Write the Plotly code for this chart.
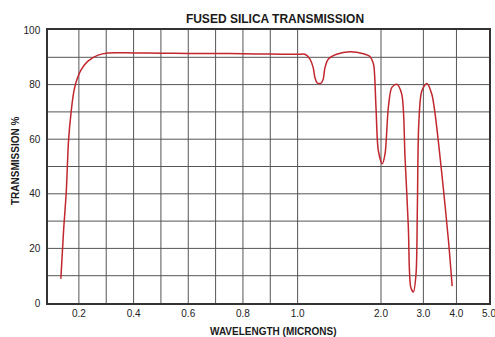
import numpy as np
import plotly.graph_objects as go

# --- data (wavelength in microns, transmission in %) ---
wavelength = [0.134, 0.144, 0.154, 0.162, 0.172, 0.182, 0.193, 0.209, 0.233, 0.270, 0.306,
              0.40, 0.50, 0.60, 0.70, 0.80, 0.90, 1.00, 1.088,
              1.148, 1.187, 1.208, 1.235, 1.259, 1.283, 1.307, 1.328, 1.367, 1.468,
              1.628, 1.788, 1.868, 1.900, 1.916, 1.940, 1.968, 2.03,
              2.095, 2.173, 2.253, 2.371, 2.489, 2.567, 2.645, 2.702, 2.764,
              2.827, 2.858, 2.891, 2.962, 3.103, 3.255, 3.355, 3.558, 3.758, 3.870]
transmission = [8.9, 26.5, 41.0, 59.4, 70.4, 77.7, 82.0, 85.6, 88.6, 90.8, 91.6,
                91.6, 91.5, 91.4, 91.4, 91.3, 91.2, 91.1, 91.1,
                89.3, 86.2, 82.5, 80.6, 80.4, 80.6, 82.0, 86.2, 89.3, 91.1,
                92.0, 91.3, 90.3, 88.5, 86.5, 71.6, 55.8, 51.0,
                54.6, 71.6, 78.9, 80.1, 76.5, 53.3, 27.8, 5.8, 4.0,
                10.7, 35.0, 65.5, 77.7, 80.4, 76.5, 69.2, 47.3, 22.9, 6.2]

# --- x axis scale: linear 0.1-1.0, compressed beyond (as in the chart) ---
scale_wl = [0.1, 0.2, 0.3, 0.4, 0.5, 0.6, 0.7, 0.8, 0.9, 1.0, 2.0, 3.0, 4.0, 5.0]
scale_pos = [1, 2, 3, 4, 5, 6, 7, 8, 9, 10, 13.05, 14.60, 15.81, 17.0]
tick_wl = [0.2, 0.4, 0.6, 0.8, 1.0, 2.0, 3.0, 4.0, 5.0]
tick_text = ["0.2", "0.4", "0.6", "0.8", "1.0", "2.0", "3.0", "4.0", "5.0"]
grid_wl = [0.2, 0.3, 0.4, 0.5, 0.6, 0.7, 0.8, 0.9, 1.0, 2.0, 3.0, 4.0]


def to_axis(w):
    return np.interp(np.asarray(w, dtype=float), scale_wl, scale_pos)


x_pos = to_axis(wavelength)

FONT = "Liberation Sans, Arial, sans-serif"
GRID = "#555555"

fig = go.Figure()
fig.add_trace(go.Scatter(
    x=x_pos, y=transmission, mode="lines",
    line=dict(color="#c1272d", width=1.5, shape="spline", smoothing=0.8),
    hoverinfo="skip", showlegend=False,
))

# vertical grid lines at the scale's grid wavelengths
for gx in to_axis(grid_wl):
    fig.add_shape(type="line", xref="x", yref="paper", x0=gx, x1=gx, y0=0, y1=1,
                  line=dict(color=GRID, width=1), layer="below")

fig.update_layout(
    width=495, height=337,
    margin=dict(l=48, r=6, t=30, b=34),
    paper_bgcolor="white", plot_bgcolor="white",
    font=dict(family=FONT, color="#222", size=10),
    title=dict(text="<b>FUSED SILICA TRANSMISSION</b>", x=275 / 495, xanchor="center",
               xref="container", y=1 - 19 / 337, yanchor="middle", yref="container",
               font=dict(size=12, family=FONT, color="#1a1a1a")),
    xaxis=dict(range=[0.87, 17.0], tickmode="array", tickvals=list(to_axis(tick_wl)),
               ticktext=tick_text, showgrid=False, zeroline=False, automargin=False,
               ticklabeloverflow="allow",
               showline=True, mirror=True, linecolor="#333", linewidth=1.5,
               ticks="", tickfont=dict(size=10, color="#222")),
    yaxis=dict(range=[0, 100], tickmode="array", tickvals=[0, 20, 40, 60, 80, 100],
               showgrid=False, zeroline=False, automargin=False,
               ticklabeloverflow="allow",
               showline=True, mirror=True, linecolor="#333", linewidth=1.5,
               ticks="", ticklabelstandoff=4, tickfont=dict(size=10, color="#222")),
    annotations=[
        dict(text="<b>WAVELENGTH (MICRONS)</b>", xref="paper", yref="paper",
             x=(273 - 48) / 441, y=-(331 - 303) / 273, xanchor="center",
             yanchor="middle", showarrow=False, font=dict(size=10, family=FONT, color="#1a1a1a")),
        dict(text="<b>TRANSMISSION %</b>", xref="paper", yref="paper",
             x=(15 - 48) / 441, y=(303 - 161) / 273, xanchor="center",
             yanchor="middle", textangle=-90, showarrow=False,
             font=dict(size=10, family=FONT, color="#1a1a1a")),
    ],
)

# horizontal grid lines every 10 %
for gy in range(10, 100, 10):
    fig.add_shape(type="line", xref="paper", yref="y", x0=0, x1=1, y0=gy, y1=gy,
                  line=dict(color=GRID, width=1), layer="below")

fig.write_html("out.html", config={"displayModeBar": False},
               post_script="document.body.style.margin='0';document.body.style.overflow='hidden';")
